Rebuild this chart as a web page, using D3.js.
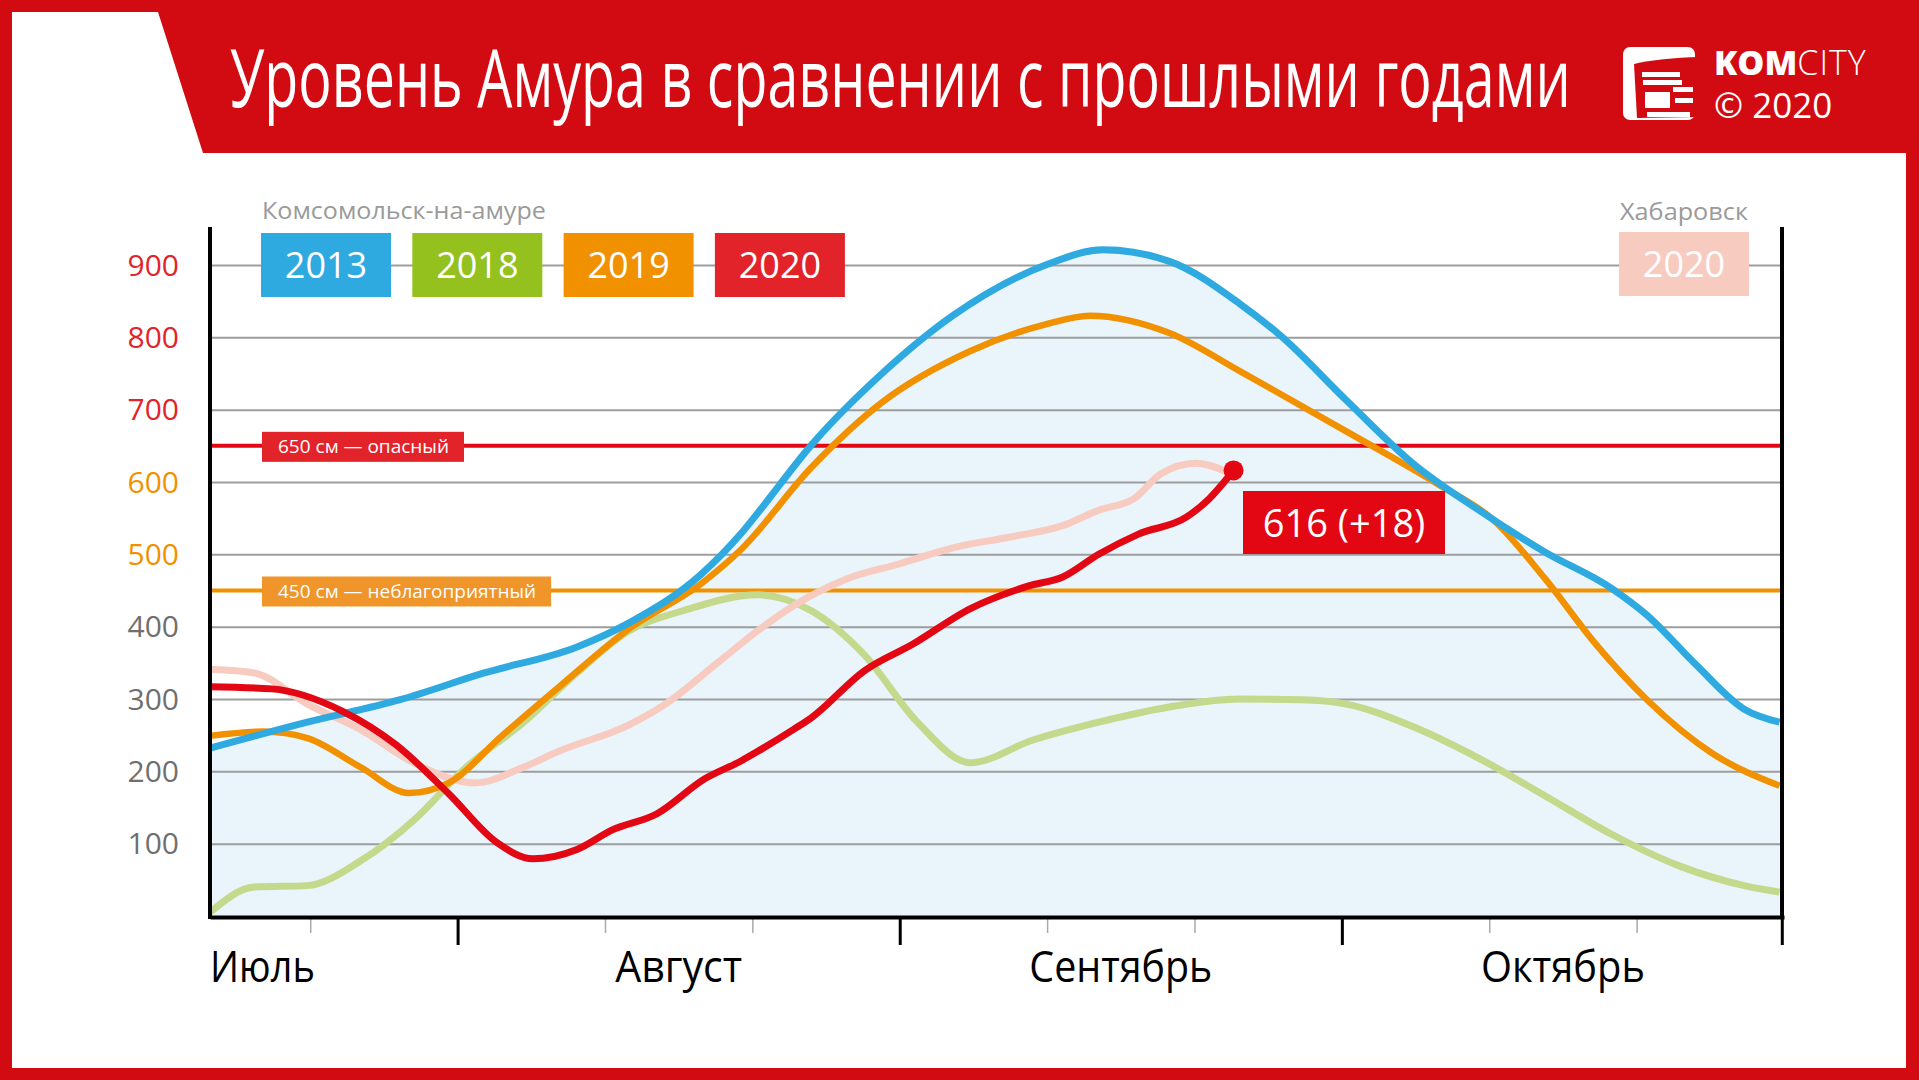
<!DOCTYPE html>
<html lang="ru">
<head>
  <meta charset="UTF-8">
  <title>Уровень Амура в сравнении с прошлыми годами</title>
  <script src="https://d3js.org/d3.v7.min.js"></script>
  <style>
    body { margin: 0; background: #fff; }
    svg { display: block; font-family: "Open Sans", "DejaVu Sans", sans-serif; }
    svg text { user-select: none; }
  </style>
</head>
<body>
  <svg width="1919" height="1080"></svg>
  <script>
    // --- data (x = month position, 0 = 1 July, 1 = 1 August ...) ---
    const monthNames = ["Июль", "Август", "Сентябрь", "Октябрь"];
    const yTicks = [100, 200, 300, 400, 500, 600, 700, 800, 900];
    const legendYears = ["2013", "2018", "2019", "2020"];
    const cityLeft = "Комсомольск-на-амуре";
    const cityRight = "Хабаровск";
    const khabYear = "2020";
    const thresholdValues = [650, 450];
    const thresholdLabels = ["650 см — опасный", "450 см — неблагоприятный"];
    const lastValue = 616, lastDelta = 18, lastPos = 2.755;

    const s2013 = [[0.44,232],[0.66,268],[0.87,299],[1.06,336],[1.27,372],[1.39,406],[1.55,472],[1.64,528],[1.68,558],
      [1.80,651],[1.96,750],[2.12,830],[2.33,900],[2.46,921],[2.61,905],[2.77,846],[2.86,803],[3.01,713],[3.16,626],
      [3.31,561],[3.46,503],[3.61,453],[3.69,416],[3.80,348],[3.91,286],[3.99,268]];
    const s2018 = [[0.44,5],[0.54,40],[0.66,42],[0.78,76],[0.90,132],[1.02,206],[1.15,268],[1.27,336],[1.39,395],[1.51,422],
      [1.68,444],[1.80,422],[1.92,361],[2.04,268],[2.16,212],[2.30,243],[2.45,268],[2.61,289],[2.77,300],[2.91,299],
      [3.01,293],[3.16,262],[3.31,218],[3.46,166],[3.61,113],[3.76,70],[3.91,42],[3.99,33]];
    const s2019 = [[0.44,249],[0.56,255],[0.66,246],[0.78,206],[0.89,170],[0.98,184],[1.10,249],[1.23,317],[1.39,398],
      [1.55,459],[1.64,506],[1.80,620],[1.96,710],[2.16,781],[2.33,818],[2.43,830],[2.61,806],[2.77,753],[2.86,722],
      [3.01,670],[3.22,596],[3.34,549],[3.46,466],[3.57,379],[3.69,299],[3.84,224],[3.99,180]];
    const s2020 = [[0.44,317],[0.58,314],[0.74,283],[0.86,237],[0.98,169],[1.09,101],[1.17,79],[1.27,92],[1.35,119],
      [1.45,141],[1.56,190],[1.64,214],[1.68,228],[1.76,258],[1.80,274],[1.92,339],[2.03,376],[2.16,425],[2.29,456],
      [2.37,469],[2.45,500],[2.54,528],[2.65,552],[2.70,577],[2.755,616]];
    const sKhab2020 = [[0.44,341],[0.54,336],[0.66,293],[0.78,258],[0.90,212],[1.04,184],[1.15,206],[1.23,228],[1.39,265],
      [1.47,293],[1.59,351],[1.68,395],[1.76,429],[1.88,466],[2.00,487],[2.12,509],[2.25,524],[2.37,540],[2.45,561],
      [2.53,577],[2.59,611],[2.67,626],[2.74,614]];

    // --- styles ---
    const RED = "#d20a11";
    const col = { c2013: "#2eaae1", c2018: "#95c11f", c2018line: "#c4d98b", c2019: "#f29100",
                  c2020: "#e3232a", c2020line: "#e30613", khab: "#f8cbc1" };
    const legendColors = [col.c2013, col.c2018, col.c2019, col.c2020];

    const svg = d3.select("svg");

    // squeeze a text horizontally to a target width (condensed look)
    function squeeze(t, w) {
      const n = t.node().getComputedTextLength();
      const x0 = +t.attr("x"), y0 = +t.attr("y");
      t.attr("x", 0).attr("y", 0).attr("transform", `translate(${x0},${y0}) scale(${w / n},1)`);
      return t;
    }

    // frame + header
    svg.append("rect").attr("width", 1919).attr("height", 1080).attr("fill", RED);
    svg.append("rect").attr("x", 12).attr("y", 153).attr("width", 1894).attr("height", 915).attr("fill", "#fff");
    svg.append("path").attr("d", "M12,12 L158,12 L203,153 L12,153 Z").attr("fill", "#fff");

    squeeze(svg.append("text").attr("x", 230).attr("y", 107)
      .attr("font-size", 80).attr("fill", "#fff")
      .text("Уровень Амура в сравнении с прошлыми годами"), 1341);

    // logo
    const logo = svg.append("g");
    logo.append("rect").attr("x", 1623).attr("y", 47).attr("width", 72).attr("height", 73).attr("rx", 7).attr("fill", "#fff");
    logo.append("path").attr("d", "M1634,64 Q1660,58 1700,57 L1700,117 L1637,118 Z").attr("fill", RED);
    [[1642,72,38,5],[1643,80,39,5],[1673,87,20,5],[1645,92,25,16],[1675,98,18,5],[1647,112,43,5]].forEach(b => {
      logo.append("rect").attr("x", b[0]).attr("y", b[1]).attr("width", b[2]).attr("height", b[3]).attr("fill", "#fff");
    });
    const kc = logo.append("text").attr("x", 1714).attr("y", 75).attr("font-size", 34).attr("fill", "#fff");
    kc.append("tspan").attr("font-weight", 800).text("KOM");
    kc.append("tspan").attr("font-weight", 300).attr("letter-spacing", 1).text("CITY");
    kc.append("tspan").attr("x", 1714).attr("dy", 43).attr("font-size", 35).attr("font-weight", 400).text("© 2020");

    // scales
    const x = d3.scaleLinear().domain([0.44, 4]).range([210, 1784]);
    const y = d3.scaleLinear().domain([0, 900]).range([916, 265]);

    // fill under 2013
    svg.append("path").datum(s2013)
      .attr("fill", "#e9f4fb")
      .attr("d", d3.area().x(d => x(d[0])).y0(y(0)).y1(d => y(d[1])).curve(d3.curveMonotoneX));

    // gridlines
    svg.append("g").attr("transform", `translate(${x(0.44)},0)`)
      .call(d3.axisLeft(y).tickValues(yTicks).tickSize(-(x(4) - x(0.44))).tickFormat(""))
      .call(g => g.select(".domain").remove())
      .call(g => g.selectAll("line").attr("stroke", "#9d9d9d").attr("stroke-width", 2));

    // y labels
    const yColor = v => v > thresholdValues[0] ? col.c2020 : v > thresholdValues[1] ? col.c2019 : "#6f6f6f";
    svg.append("g").selectAll("text").data(yTicks).join("text")
      .attr("x", 179).attr("y", d => y(d)).attr("dy", "0.36em")
      .attr("text-anchor", "end").attr("font-size", 30)
      .attr("fill", yColor).text(d => d);

    // threshold lines
    const thColors = [col.c2020line, col.c2019];
    const thBox = ["#e3232a", "#f0952a"];
    svg.append("g").selectAll("line").data(thresholdValues).join("line")
      .attr("x1", x(0.44)).attr("x2", x(4)).attr("y1", d => y(d)).attr("y2", d => y(d))
      .attr("stroke", (d, i) => thColors[i]).attr("stroke-width", 4);
    thresholdValues.forEach((v, i) => {
      const g = svg.append("g");
      const t = g.append("text").attr("x", 278).attr("y", y(v) + 7).attr("font-size", 19).attr("fill", "#fff")
        .text(thresholdLabels[i]);
      const w = t.node().getComputedTextLength();
      g.insert("rect", "text").attr("x", 262).attr("y", y(v) - 14).attr("width", w + 31).attr("height", 30)
        .attr("fill", thBox[i]);
    });

    // legend
    squeeze(svg.append("text").attr("x", 262).attr("y", 219).attr("font-size", 24).attr("fill", "#9a9a9a")
      .text(cityLeft), 284);
    const lg = svg.append("g").selectAll("g").data(legendYears).join("g")
      .attr("transform", (d, i) => `translate(${261 + i * 151.3},233)`);
    lg.append("rect").attr("width", 130).attr("height", 64).attr("fill", (d, i) => legendColors[i]);
    lg.append("text").attr("x", 65).attr("y", 45).attr("text-anchor", "middle")
      .attr("font-size", 36).attr("fill", "#fff").text(d => d);

    squeeze(svg.append("text").attr("x", 1620).attr("y", 220).attr("font-size", 24).attr("fill", "#9a9a9a")
      .text(cityRight), 128);
    svg.append("rect").attr("x", 1619).attr("y", 232).attr("width", 130).attr("height", 64).attr("fill", col.khab);
    svg.append("text").attr("x", 1684).attr("y", 277).attr("text-anchor", "middle")
      .attr("font-size", 36).attr("fill", "#fff").text(khabYear);

    // series lines
    const line = d3.line().x(d => x(d[0])).y(d => y(d[1])).curve(d3.curveMonotoneX);
    const series = [
      { data: s2018, color: col.c2018line, w: 7 },
      { data: sKhab2020, color: col.khab, w: 7 },
      { data: s2019, color: col.c2019, w: 6.5 },
      { data: s2013, color: col.c2013, w: 7 },
      { data: s2020, color: col.c2020line, w: 7 }
    ];
    svg.append("g").selectAll("path").data(series).join("path")
      .attr("fill", "none").attr("stroke", d => d.color).attr("stroke-width", d => d.w)
      .attr("stroke-linejoin", "round")
      .attr("d", d => line(d.data));

    svg.append("circle").attr("cx", x(lastPos)).attr("cy", y(lastValue)).attr("r", 10).attr("fill", col.c2020line);

    // annotation
    svg.append("rect").attr("x", 1243).attr("y", 491).attr("width", 202).attr("height", 63).attr("fill", col.c2020line);
    svg.append("text").attr("x", 1344).attr("y", 537).attr("text-anchor", "middle")
      .attr("font-size", 38).attr("fill", "#fff").text(`${lastValue} (+${lastDelta})`);

    // axes
    const axisG = svg.append("g");
    axisG.append("line").attr("x1", 210).attr("x2", 210).attr("y1", 227).attr("y2", 919)
      .attr("stroke", "#000").attr("stroke-width", 4);
    axisG.append("line").attr("x1", 1782).attr("x2", 1782).attr("y1", 227).attr("y2", 919)
      .attr("stroke", "#000").attr("stroke-width", 4);

    const minorTicks = [];
    [0, 1, 2, 3].forEach(m => { minorTicks.push(m + 1 / 3, m + 2 / 3); });
    svg.append("g").attr("transform", `translate(0,${y(0) + 1})`)
      .call(d3.axisBottom(x).tickValues(minorTicks.filter(v => v > 0.44)).tickSize(16).tickFormat(""))
      .call(g => g.select(".domain").remove())
      .call(g => g.selectAll("line").attr("stroke", "#aaa").attr("stroke-width", 1.5));
    svg.append("g").attr("transform", `translate(0,${y(0) + 1})`)
      .call(d3.axisBottom(x).tickValues([1, 2, 3, 3.995]).tickSize(28).tickFormat("").tickSizeOuter(0))
      .call(g => g.select(".domain").attr("stroke-width", 4))
      .call(g => g.selectAll("line").attr("stroke", "#000").attr("stroke-width", 3));

    // month labels
    const monthW = [105, 127, 183, 164];
    svg.append("g").selectAll("text").data(monthNames).join("text")
      .attr("x", (d, i) => i === 0 ? x(0.44) : x(i + 0.5))
      .attr("y", 982)
      .attr("text-anchor", (d, i) => i === 0 ? "start" : "middle")
      .attr("font-size", 44).attr("fill", "#000")
      .text(d => d)
      .each(function (d, i) { squeeze(d3.select(this), monthW[i]); });
  </script>
</body>
</html>
